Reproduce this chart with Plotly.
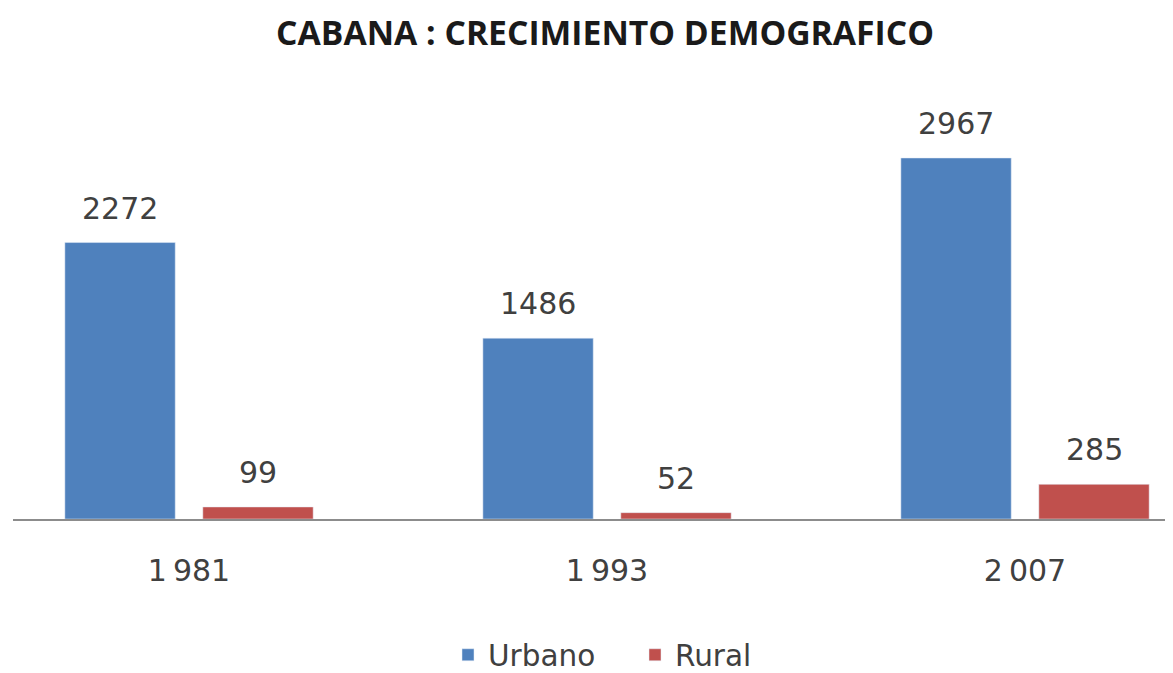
import plotly.graph_objects as go

# censo de Cabana, poblacion urbana y rural
years = ['1\u2009981', '1\u2009993', '2\u2009007']
urbano = [2272, 1486, 2967]
rural = [99, 52, 285]

blue = '#4F81BD'
red = '#C0504D'
font = 'DejaVu Sans'

fig = go.Figure()
fig.add_trace(go.Bar(x=years, y=urbano, name='Urbano', marker_color=blue))
fig.add_trace(go.Bar(x=years, y=rural, name='Rural', marker_color=red))

# value labels sit well above each bar, shifted onto its slot in the group
for vals, shift in [(urbano, -69), (rural, 69)]:
    for yr, v in zip(years, vals):
        fig.add_annotation(x=yr, y=v, text=str(v), showarrow=False,
                           xshift=shift, yshift=15, yanchor='bottom',
                           font=dict(family=font, size=30, color='#404040'))

# page body adds an 8px margin, so the figure is 8px smaller each way
fig.update_layout(
    width=1165, height=665,
    margin=dict(l=5, r=0, t=72, b=154, autoexpand=False),
    paper_bgcolor='white', plot_bgcolor='white',
    barmode='group', bargap=0.34, bargroupgap=0.2,
    title=dict(text='<b>CABANA : CRECIMIENTO DEMOGRAFICO</b>',
               x=0.5125, xanchor='center', y=0.9624, yanchor='middle',
               font=dict(family='Open Sans', size=33.7, color='#1a1a1a')),
    legend=dict(orientation='h', x=0.375, xanchor='left',
                y=-0.31, yanchor='middle', entrywidth=142,
                font=dict(family=font, size=29.5, color='#404040')),
    showlegend=True,
)
fig.update_xaxes(range=[-0.4211, 2.354], showline=True, linecolor='#8c8c8c',
                 linewidth=2, ticks='', ticklabelstandoff=24, automargin=False,
                 tickfont=dict(family=font, size=30, color='#404040'))
fig.update_yaxes(range=[0, 3608], visible=False)

fig.write_html('out.html')
